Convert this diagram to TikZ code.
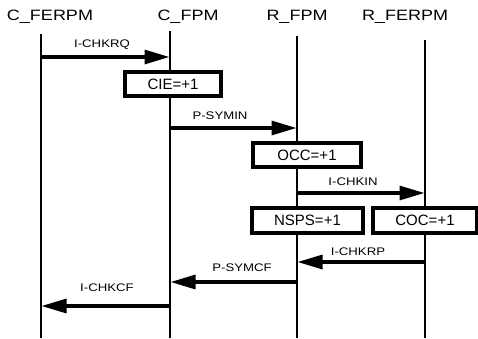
\documentclass[tikz,border=0pt]{standalone}
\usepackage{fontspec}
\setmainfont{Liberation Sans}
\usetikzlibrary{arrows.meta}
\begin{document}
\begin{tikzpicture}[x=1pt,y=-1pt,
  head/.style={inner sep=0pt,font=\fontsize{15}{15}\selectfont},
  life/.style={line width=1.3pt},
  msg/.style={line width=3.2pt,-{Triangle[length=25pt,width=14pt]},shorten >=0.5pt},
  lbl/.style={inner sep=0pt,font=\fontsize{11}{11}\selectfont},
  counter/.style={draw,line width=3.6pt,fill=white,inner sep=0pt,font=\fontsize{15}{15}\selectfont}]
\useasboundingbox (0,0) rectangle (478,338);
\node[head] (hcferpm) at (50,17) {\scalebox{1.2}[1]{C\_FERPM}};
\node[head] (hcfpm) at (188,17) {\scalebox{1.2}[1]{C\_FPM}};
\node[head] (hrfpm) at (297,17) {\scalebox{1.2}[1]{R\_FPM}};
\node[head] (hrferpm) at (405,17) {\scalebox{1.2}[1]{R\_FERPM}};
\coordinate (cferpm) at (41,34);
\coordinate (cfpm) at (170,31);
\coordinate (rfpm) at (297,36);
\coordinate (rferpm) at (425,40);
\coordinate (cferpmend) at (41,338);
\coordinate (cfpmend) at (170,338);
\coordinate (rfpmend) at (297,338);
\coordinate (rferpmend) at (425,338);
\draw[life] (cferpm) -- (cferpmend);
\draw[life] (cfpm) -- (cfpmend);
\draw[life] (rfpm) -- (rfpmend);
\draw[life] (rferpm) -- (rferpmend);
\coordinate (chkrqa) at (41,57);
\coordinate (chkrqb) at (170,57);
\coordinate (syminb) at (170,128);
\coordinate (symina) at (297,128);
\coordinate (chkina) at (297,193);
\coordinate (chkinb) at (425,193);
\coordinate (chkrpa) at (425,262);
\coordinate (chkrpb) at (297,262);
\coordinate (symcfa) at (297,282);
\coordinate (symcfb) at (170,282);
\coordinate (chkcfa) at (170,306);
\coordinate (chkcfb) at (41,306);
\draw[msg] (chkrqa) -- (chkrqb);
\draw[msg] (syminb) -- (symina);
\draw[msg] (chkina) -- (chkinb);
\draw[msg] (chkrpa) -- (chkrpb);
\draw[msg] (symcfa) -- (symcfb);
\draw[msg] (chkcfa) -- (chkcfb);
\node[lbl] (lchkrq) at (102,45) {\scalebox{1.2}[1]{I-CHKRQ}};
\node[lbl] (lsymin) at (220,116) {\scalebox{1.2}[1]{P-SYMIN}};
\node[lbl] (lchkin) at (353,182) {\scalebox{1.2}[1]{I-CHKIN}};
\node[lbl] (lchkrp) at (358,252) {\scalebox{1.2}[1]{I-CHKRP}};
\node[lbl] (lsymcf) at (242,268) {\scalebox{1.2}[1]{P-SYMCF}};
\node[lbl] (lchkcf) at (107,288) {\scalebox{1.2}[1]{I-CHKCF}};
\node[counter,minimum width=96pt,minimum height=24pt] (cie) at (173,84) {CIE=+1};
\node[counter,minimum width=108pt,minimum height=24pt] (occ) at (307,155) {OCC=+1};
\node[counter,minimum width=111pt,minimum height=25pt] (nsps) at (307.5,220.5) {NSPS=+1};
\node[counter,minimum width=104pt,minimum height=25pt] (coc) at (425,220.5) {COC=+1};
\end{tikzpicture}
\end{document}
